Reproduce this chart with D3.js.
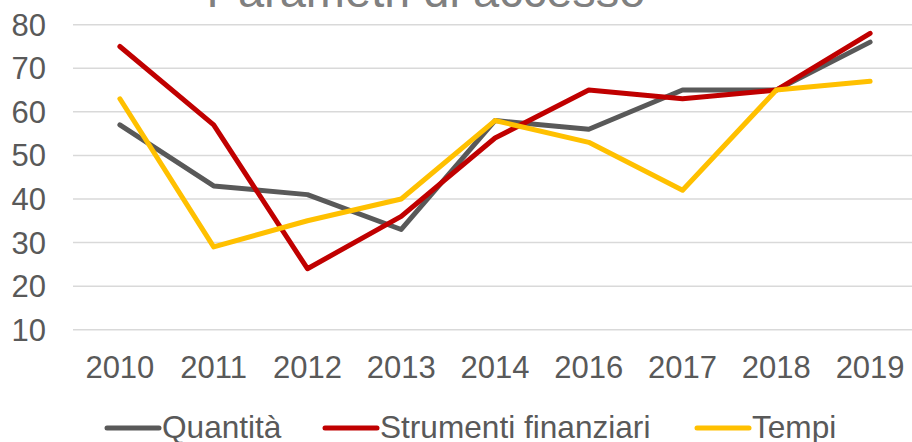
<!DOCTYPE html>
<html>
<head>
<meta charset="utf-8">
<script src="https://cdn.jsdelivr.net/npm/d3@7.9.0/dist/d3.min.js"></script>
<style>
  body { margin: 0; background: #fff; }
  svg { display: block; font-family: Arial, "Liberation Sans", sans-serif; }
</style>
</head>
<body>
<svg width="912" height="442"></svg>
<script>
const years = ['2010', '2011', '2012', '2013', '2014', '2016', '2017', '2018', '2019'];
const quantita = [57, 43, 41, 33, 58, 56, 65, 65, 76];
const strumenti = [75, 57, 24, 36, 54, 65, 63, 65, 78];
const tempi = [63, 29, 35, 40, 58, 53, 42, 65, 67];
const yTicks = [10, 20, 30, 40, 50, 60, 70, 80];

const series = [
    { name: 'Quantità', values: quantita, color: '#595959' },
    { name: 'Strumenti finanziari', values: strumenti, color: '#C00000' },
    { name: 'Tempi', values: tempi, color: '#FFC000' }
];

const svg = d3.select('svg');

const x = d3.scaleBand().domain(years).range([73, 917]);
const y = d3.scaleLinear().domain([10, 80]).range([329.7, 24.7]);

// title, mostly cut off at the top
svg.append('text')
    .attr('x', 426)
    .attr('y', 7)
    .attr('text-anchor', 'middle')
    .attr('font-size', 47)
    .attr('fill', '#808080')
    .text('Parametri di accesso');

// gridlines
svg.append('g')
    .selectAll('line')
    .data(yTicks)
    .join('line')
    .attr('x1', 73)
    .attr('x2', 912)
    .attr('y1', (d) => y(d))
    .attr('y2', (d) => y(d))
    .attr('stroke', '#d9d9d9')
    .attr('stroke-width', 1.5);

// y labels
svg.append('g')
    .selectAll('text')
    .data(yTicks)
    .join('text')
    .attr('x', 46)
    .attr('y', (d) => y(d) + 11)
    .attr('text-anchor', 'end')
    .attr('font-size', 31)
    .attr('fill', '#595959')
    .text((d) => d);

// x labels
svg.append('g')
    .selectAll('text')
    .data(years)
    .join('text')
    .attr('x', (d) => x(d) + x.bandwidth() / 2)
    .attr('y', 378)
    .attr('text-anchor', 'middle')
    .attr('font-size', 31)
    .attr('fill', '#595959')
    .text((d) => d);

// lines
let line = d3.line()
    .x((d, i) => x(years[i]) + x.bandwidth() / 2)
    .y((d) => y(d));

series.forEach((s) => {
    svg.append('path')
        .attr('d', line(s.values))
        .attr('fill', 'none')
        .attr('stroke', s.color)
        .attr('stroke-width', 5)
        .attr('stroke-linejoin', 'round')
        .attr('stroke-linecap', 'round');
});

// legend
const legendX = [105, 323, 695];
series.forEach((s, i) => {
    let g = svg.append('g').attr('transform', `translate(${legendX[i]},428)`);
    g.append('line')
        .attr('x1', 2)
        .attr('x2', 54)
        .attr('stroke', s.color)
        .attr('stroke-width', 5)
        .attr('stroke-linecap', 'round');
    g.append('text')
        .attr('x', 57)
        .attr('y', 9.5)
        .attr('font-size', 31.6)
        .attr('fill', '#595959')
        .text(s.name);
});
</script>
</body>
</html>
